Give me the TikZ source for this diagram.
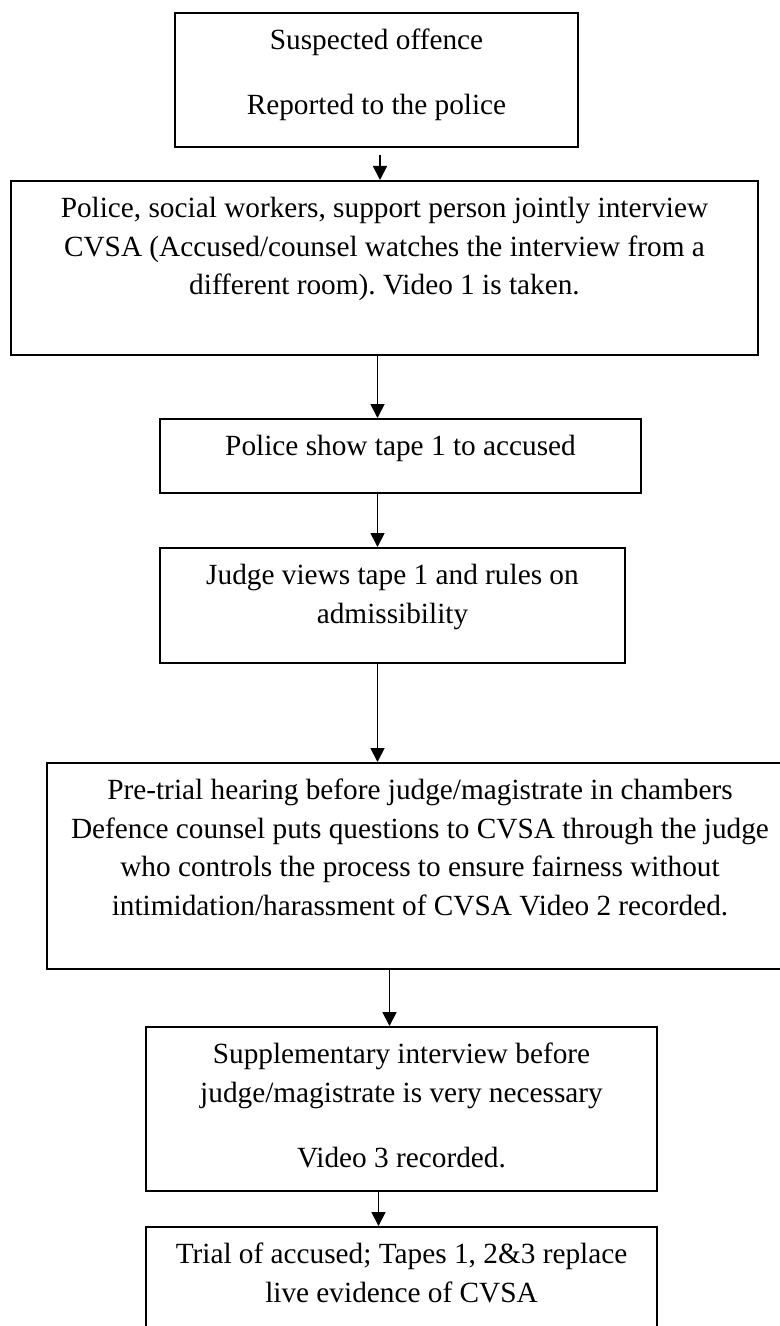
\documentclass[tikz,border=0pt]{standalone}
\usepackage{fontspec}
\setmainfont{Liberation Serif}
\usetikzlibrary{arrows.meta}
\frenchspacing

% text of a box: width, height, lines (top aligned)
\newcommand{\flowtext}[3]{\parbox[c][#2][t]{#1}{\centering\rule{0pt}{1.11cm}#3}}

\begin{document}
\begin{tikzpicture}[line width=1.5pt,
    flowbox/.style={draw, inner sep=0pt, anchor=north,
      font=\fontsize{25pt}{32.9pt}\selectfont},
    flowarrow/.style={-{Triangle[length=0.42cm, width=0.42cm]}}]
  \useasboundingbox (0,0) rectangle (23.37,-39.78);

  \node[flowbox] (report) at (11.295,-0.36)
        {\flowtext{12.09cm}{4.02cm}{Suspected offence\\[0.795cm]Reported to the police}};
  \node[flowbox] (interview) at (11.535,-5.40)
        {\flowtext{22.41cm}{5.22cm}{Police, social workers, support person jointly interview\\
         CVSA (Accused/counsel watches the interview from a\\
         different room). Video 1 is taken.}};
  \node[flowbox] (showtape) at (12.015,-12.54)
        {\flowtext{14.43cm}{2.22cm}{Police show tape 1 to accused}};
  \node[flowbox] (judgeview) at (11.775,-16.41)
        {\flowtext{13.95cm}{3.45cm}{Judge views tape 1 and rules on\\admissibility}};
  \node[flowbox] (pretrial) at (12.60,-22.86)
        {\flowtext{22.39cm}{6.18cm}{Pre-trial hearing before judge/magistrate in chambers\\
         Defence counsel puts questions to CVSA through the judge\\
         who controls the process to ensure fairness without\\
         intimidation/harassment of CVSA Video 2 recorded.}};
  \node[flowbox] (supplement) at (12.045,-30.78)
        {\flowtext{15.33cm}{4.92cm}{Supplementary interview before\\
         judge/magistrate is very necessary\\[0.795cm]Video 3 recorded.}};
  \node[flowbox] (trial) at (12.045,-36.78)
        {\flowtext{15.33cm}{4.20cm}{Trial of accused; Tapes 1, 2\&3 replace\\
         live evidence of CVSA}};

  % arrow columns
  \coordinate (c1) at (11.400,0);
  \coordinate (c2) at (11.325,0);
  \coordinate (c3) at (11.685,0);
  \coordinate (c4) at (11.355,0);

  \draw[flowarrow, shorten <=0.21cm] (report.south -| c1) -- (interview.north -| c1);
  \draw[flowarrow] (interview.south -| c2) -- (showtape.north -| c2);
  \draw[flowarrow] (showtape.south -| c2) -- (judgeview.north -| c2);
  \draw[flowarrow] (judgeview.south -| c2) -- (pretrial.north -| c2);
  \draw[flowarrow] (pretrial.south -| c3) -- (supplement.north -| c3);
  \draw[flowarrow] (supplement.south -| c4) -- (trial.north -| c4);
\end{tikzpicture}
\end{document}
